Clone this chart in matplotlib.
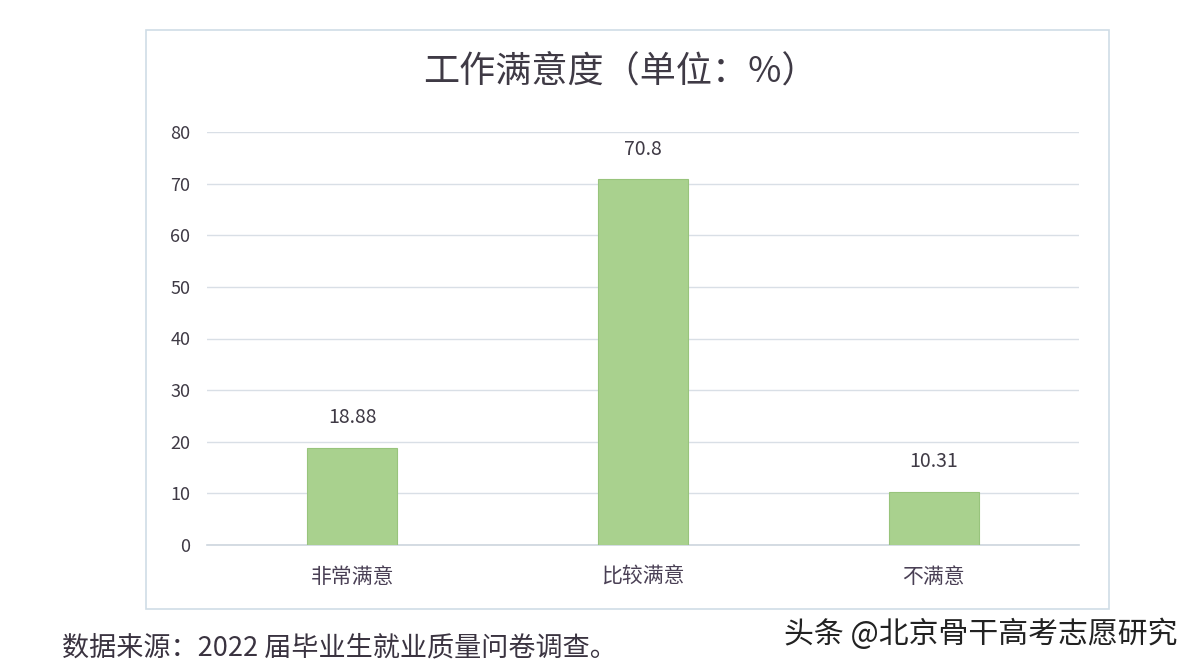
import matplotlib
matplotlib.use("Agg")
import matplotlib.pyplot as plt
from matplotlib.patches import Rectangle

plt.rcParams['font.family'] = ['Noto Sans CJK SC', 'DejaVu Sans']

categories = ['非常满意', '比较满意', '不满意']
values = [18.88, 70.8, 10.31]
value_labels = ['18.88', '70.8', '10.31']
yticks = [0, 10, 20, 30, 40, 50, 60, 70, 80]
title = '工作满意度（单位：%）'
source = '数据来源：2022 届毕业生就业质量问卷调查。'
watermark = '头条 @北京骨干高考志愿研究'

fig = plt.figure(figsize=(11.98, 6.68), dpi=100)
fig.patch.set_facecolor('white')

# chart frame
fig.patches.append(Rectangle((146/1198, 1-609/668), (1109-146)/1198, (609-30)/668,
                             transform=fig.transFigure, fill=False,
                             edgecolor='#cfdde6', linewidth=1.2))

ax = fig.add_axes([207/1198, 1-545/668, (1079-207)/1198, (545-132)/668])
x = list(range(len(categories)))
ax.bar(x, values, width=0.31, color='#a9d18e', edgecolor='#98c47c', linewidth=0.8, zorder=3)
ax.set_xlim(-0.5, 2.5)
ax.set_ylim(0, 80)
ax.set_yticks(yticks)
ax.set_yticklabels([str(t) for t in yticks], fontsize=13, color='#3f3a45')
ax.set_xticks(x)
ax.set_xticklabels(categories, fontsize=15, color='#4a4055')
ax.tick_params(axis='both', length=0)
ax.tick_params(axis='y', pad=12)
ax.tick_params(axis='x', pad=15)
ax.grid(axis='y', color='#d9dfe6', linewidth=1, zorder=0)
for s in ['top', 'right', 'left']:
    ax.spines[s].set_visible(False)
ax.spines['bottom'].set_color('#cdd6de')
ax.spines['bottom'].set_linewidth(1.2)
for xi, v, lbl in zip(x, values, value_labels):
    ax.annotate(lbl, (xi, v), xytext=(0, 14), textcoords='offset points',
                ha='center', va='bottom', fontsize=14, color='#3f3a45')

fig.text(620/1198, 1-72/668, title, ha='center', va='center', fontsize=26,
         color='#3f3a45', fontweight='light')
fig.text(62/1198, 1-648/668, source, ha='left', va='center', fontsize=19.5,
         color='#3a3340')
fig.text(1178/1198, 1-634/668, watermark, ha='right', va='center', fontsize=21.5,
         color='#222222', fontweight='medium')

fig.savefig('out.png', dpi=100, facecolor='white')
